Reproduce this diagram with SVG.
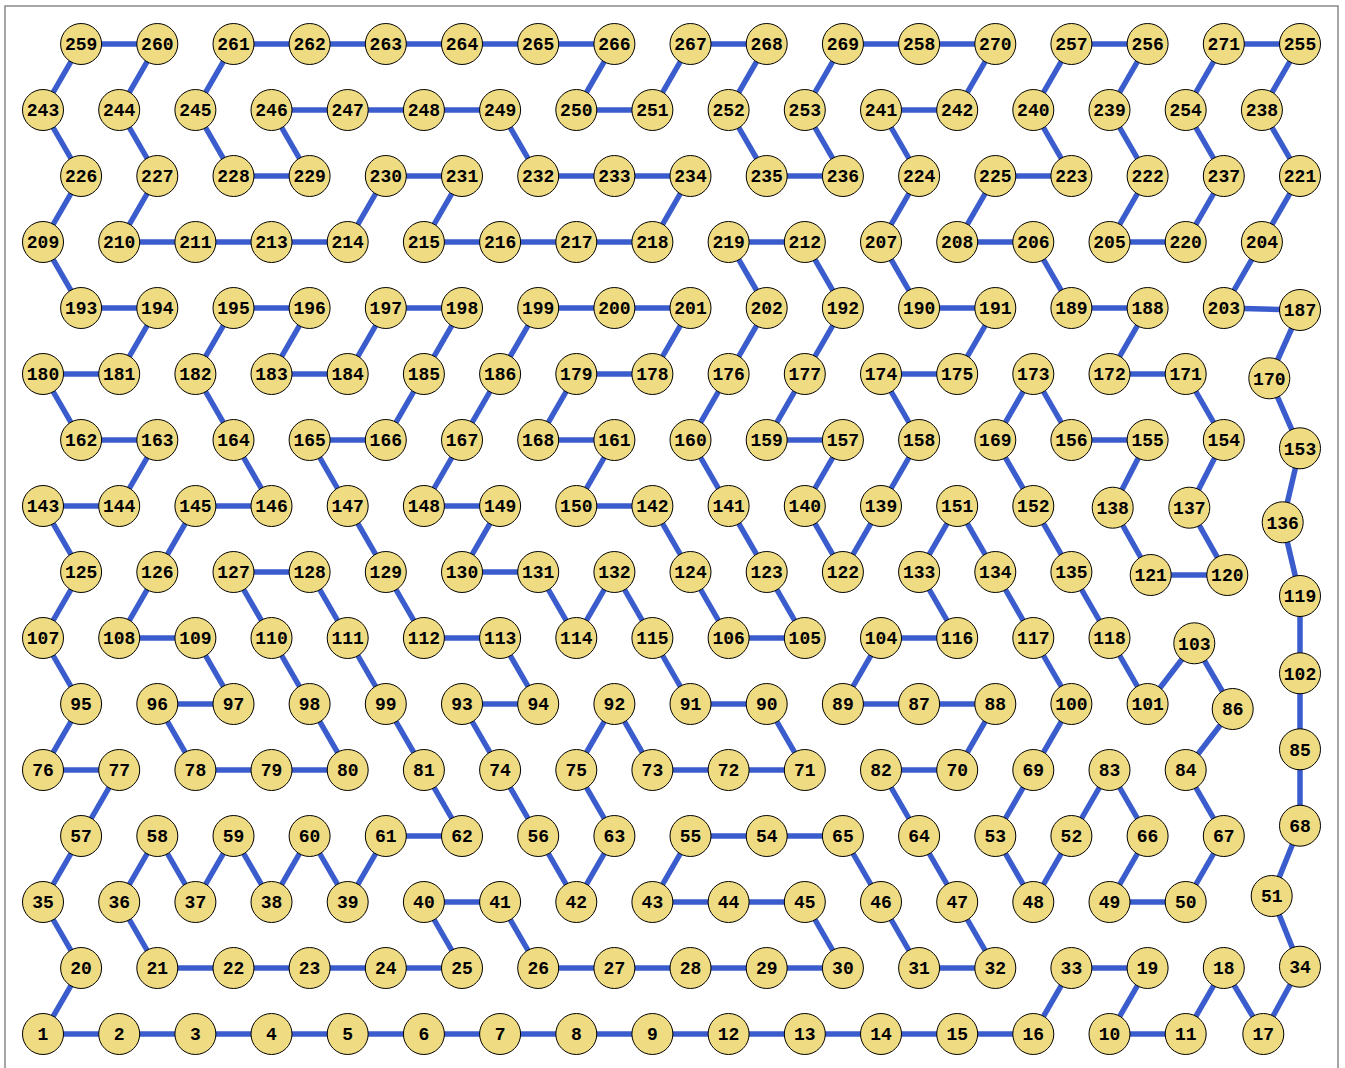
<svg xmlns="http://www.w3.org/2000/svg" width="1345" height="1068" viewBox="0 0 1345 1068">
<style>
.e line{stroke:#3a5ccd;stroke-width:5.5;stroke-linecap:butt}
.n circle{fill:#efdc82;stroke:#000;stroke-width:1}
.n text{font-family:"Liberation Mono","DejaVu Sans Mono",monospace;font-weight:bold;font-size:18px;text-anchor:middle;fill:#000}
</style>
<rect x="5" y="6" width="1333" height="1100" fill="#fff" stroke="#888" stroke-width="1.5"/>
<g class="e" id="connectors">
<line x1="81.1" y1="44" x2="157.3" y2="44"/>
<line x1="233.5" y1="44" x2="309.6" y2="44"/>
<line x1="309.6" y1="44" x2="385.8" y2="44"/>
<line x1="385.8" y1="44" x2="462" y2="44"/>
<line x1="462" y1="44" x2="538.2" y2="44"/>
<line x1="538.2" y1="44" x2="614.4" y2="44"/>
<line x1="690.5" y1="44" x2="766.7" y2="44"/>
<line x1="842.9" y1="44" x2="919.1" y2="44"/>
<line x1="919.1" y1="44" x2="995.3" y2="44"/>
<line x1="1071.4" y1="44" x2="1147.6" y2="44"/>
<line x1="1223.8" y1="44" x2="1300" y2="44"/>
<line x1="81.1" y1="44" x2="43" y2="110"/>
<line x1="157.3" y1="44" x2="119.2" y2="110"/>
<line x1="233.5" y1="44" x2="195.4" y2="110"/>
<line x1="614.4" y1="44" x2="576.3" y2="110"/>
<line x1="690.5" y1="44" x2="652.4" y2="110"/>
<line x1="766.7" y1="44" x2="728.6" y2="110"/>
<line x1="842.9" y1="44" x2="804.8" y2="110"/>
<line x1="995.3" y1="44" x2="957.2" y2="110"/>
<line x1="1071.4" y1="44" x2="1033.3" y2="110"/>
<line x1="1147.6" y1="44" x2="1109.5" y2="110"/>
<line x1="1223.8" y1="44" x2="1185.7" y2="110"/>
<line x1="1300" y1="44" x2="1261.9" y2="110"/>
<line x1="271.5" y1="110" x2="347.7" y2="110"/>
<line x1="347.7" y1="110" x2="423.9" y2="110"/>
<line x1="423.9" y1="110" x2="500.1" y2="110"/>
<line x1="576.3" y1="110" x2="652.4" y2="110"/>
<line x1="881" y1="110" x2="957.2" y2="110"/>
<line x1="43" y1="110" x2="81.1" y2="176"/>
<line x1="119.2" y1="110" x2="157.3" y2="176"/>
<line x1="195.4" y1="110" x2="233.5" y2="176"/>
<line x1="271.5" y1="110" x2="309.6" y2="176"/>
<line x1="500.1" y1="110" x2="538.2" y2="176"/>
<line x1="728.6" y1="110" x2="766.7" y2="176"/>
<line x1="804.8" y1="110" x2="842.9" y2="176"/>
<line x1="881" y1="110" x2="919.1" y2="176"/>
<line x1="1033.3" y1="110" x2="1071.4" y2="176"/>
<line x1="1109.5" y1="110" x2="1147.6" y2="176"/>
<line x1="1185.7" y1="110" x2="1223.8" y2="176"/>
<line x1="1261.9" y1="110" x2="1300" y2="176"/>
<line x1="233.5" y1="176" x2="309.6" y2="176"/>
<line x1="385.8" y1="176" x2="462" y2="176"/>
<line x1="538.2" y1="176" x2="614.4" y2="176"/>
<line x1="614.4" y1="176" x2="690.5" y2="176"/>
<line x1="766.7" y1="176" x2="842.9" y2="176"/>
<line x1="995.3" y1="176" x2="1071.4" y2="176"/>
<line x1="81.1" y1="176" x2="43" y2="242"/>
<line x1="157.3" y1="176" x2="119.2" y2="242"/>
<line x1="385.8" y1="176" x2="347.7" y2="242"/>
<line x1="462" y1="176" x2="423.9" y2="242"/>
<line x1="690.5" y1="176" x2="652.4" y2="242"/>
<line x1="919.1" y1="176" x2="881" y2="242"/>
<line x1="995.3" y1="176" x2="957.2" y2="242"/>
<line x1="1147.6" y1="176" x2="1109.5" y2="242"/>
<line x1="1223.8" y1="176" x2="1185.7" y2="242"/>
<line x1="1300" y1="176" x2="1261.9" y2="242"/>
<line x1="119.2" y1="242" x2="195.4" y2="242"/>
<line x1="195.4" y1="242" x2="271.5" y2="242"/>
<line x1="271.5" y1="242" x2="347.7" y2="242"/>
<line x1="423.9" y1="242" x2="500.1" y2="242"/>
<line x1="500.1" y1="242" x2="576.3" y2="242"/>
<line x1="576.3" y1="242" x2="652.4" y2="242"/>
<line x1="728.6" y1="242" x2="804.8" y2="242"/>
<line x1="957.2" y1="242" x2="1033.3" y2="242"/>
<line x1="1109.5" y1="242" x2="1185.7" y2="242"/>
<line x1="43" y1="242" x2="81.1" y2="308"/>
<line x1="728.6" y1="242" x2="766.7" y2="308"/>
<line x1="804.8" y1="242" x2="842.9" y2="308"/>
<line x1="881" y1="242" x2="919.1" y2="308"/>
<line x1="1033.3" y1="242" x2="1071.4" y2="308"/>
<line x1="1261.9" y1="242" x2="1223.8" y2="308"/>
<line x1="81.1" y1="308" x2="157.3" y2="308"/>
<line x1="233.5" y1="308" x2="309.6" y2="308"/>
<line x1="385.8" y1="308" x2="462" y2="308"/>
<line x1="538.2" y1="308" x2="614.4" y2="308"/>
<line x1="614.4" y1="308" x2="690.5" y2="308"/>
<line x1="919.1" y1="308" x2="995.3" y2="308"/>
<line x1="1071.4" y1="308" x2="1147.6" y2="308"/>
<line x1="1223.8" y1="308" x2="1300" y2="310"/>
<line x1="157.3" y1="308" x2="119.2" y2="374"/>
<line x1="233.5" y1="308" x2="195.4" y2="374"/>
<line x1="309.6" y1="308" x2="271.5" y2="374"/>
<line x1="385.8" y1="308" x2="347.7" y2="374"/>
<line x1="462" y1="308" x2="423.9" y2="374"/>
<line x1="538.2" y1="308" x2="500.1" y2="374"/>
<line x1="690.5" y1="308" x2="652.4" y2="374"/>
<line x1="766.7" y1="308" x2="728.6" y2="374"/>
<line x1="842.9" y1="308" x2="804.8" y2="374"/>
<line x1="995.3" y1="308" x2="957.2" y2="374"/>
<line x1="1147.6" y1="308" x2="1109.5" y2="374"/>
<line x1="1300" y1="310" x2="1269.3" y2="378.3"/>
<line x1="43" y1="374" x2="119.2" y2="374"/>
<line x1="271.5" y1="374" x2="347.7" y2="374"/>
<line x1="576.3" y1="374" x2="652.4" y2="374"/>
<line x1="881" y1="374" x2="957.2" y2="374"/>
<line x1="1109.5" y1="374" x2="1185.7" y2="374"/>
<line x1="43" y1="374" x2="81.1" y2="440"/>
<line x1="195.4" y1="374" x2="233.5" y2="440"/>
<line x1="423.9" y1="374" x2="385.8" y2="440"/>
<line x1="500.1" y1="374" x2="462" y2="440"/>
<line x1="576.3" y1="374" x2="538.2" y2="440"/>
<line x1="728.6" y1="374" x2="690.5" y2="440"/>
<line x1="804.8" y1="374" x2="766.7" y2="440"/>
<line x1="881" y1="374" x2="919.1" y2="440"/>
<line x1="1033.3" y1="374" x2="995.3" y2="440"/>
<line x1="1033.3" y1="374" x2="1071.4" y2="440"/>
<line x1="1185.7" y1="374" x2="1223.8" y2="440"/>
<line x1="1269.3" y1="378.3" x2="1300" y2="448.3"/>
<line x1="81.1" y1="440" x2="157.3" y2="440"/>
<line x1="309.6" y1="440" x2="385.8" y2="440"/>
<line x1="538.2" y1="440" x2="614.4" y2="440"/>
<line x1="766.7" y1="440" x2="842.9" y2="440"/>
<line x1="1071.4" y1="440" x2="1147.6" y2="440"/>
<line x1="157.3" y1="440" x2="119.2" y2="506"/>
<line x1="233.5" y1="440" x2="271.5" y2="506"/>
<line x1="309.6" y1="440" x2="347.7" y2="506"/>
<line x1="462" y1="440" x2="423.9" y2="506"/>
<line x1="614.4" y1="440" x2="576.3" y2="506"/>
<line x1="690.5" y1="440" x2="728.6" y2="506"/>
<line x1="842.9" y1="440" x2="804.8" y2="506"/>
<line x1="919.1" y1="440" x2="881" y2="506"/>
<line x1="995.3" y1="440" x2="1033.3" y2="506"/>
<line x1="1147.6" y1="440" x2="1112.7" y2="507.7"/>
<line x1="1223.8" y1="440" x2="1189.3" y2="507.7"/>
<line x1="1300" y1="448.3" x2="1282.7" y2="522.3"/>
<line x1="43" y1="506" x2="119.2" y2="506"/>
<line x1="195.4" y1="506" x2="271.5" y2="506"/>
<line x1="423.9" y1="506" x2="500.1" y2="506"/>
<line x1="576.3" y1="506" x2="652.4" y2="506"/>
<line x1="43" y1="506" x2="81.1" y2="572"/>
<line x1="195.4" y1="506" x2="157.3" y2="572"/>
<line x1="347.7" y1="506" x2="385.8" y2="572"/>
<line x1="500.1" y1="506" x2="462" y2="572"/>
<line x1="652.4" y1="506" x2="690.5" y2="572"/>
<line x1="728.6" y1="506" x2="766.7" y2="572"/>
<line x1="804.8" y1="506" x2="842.9" y2="572"/>
<line x1="881" y1="506" x2="842.9" y2="572"/>
<line x1="957.2" y1="506" x2="919.1" y2="572"/>
<line x1="957.2" y1="506" x2="995.3" y2="572"/>
<line x1="1033.3" y1="506" x2="1071.4" y2="572"/>
<line x1="1112.7" y1="507.7" x2="1150.7" y2="575"/>
<line x1="1189.3" y1="507.7" x2="1227.3" y2="575"/>
<line x1="1282.7" y1="522.3" x2="1300" y2="596"/>
<line x1="233.5" y1="572" x2="309.6" y2="572"/>
<line x1="462" y1="572" x2="538.2" y2="572"/>
<line x1="1150.7" y1="575" x2="1227.3" y2="575"/>
<line x1="81.1" y1="572" x2="43" y2="638"/>
<line x1="157.3" y1="572" x2="119.2" y2="638"/>
<line x1="233.5" y1="572" x2="271.5" y2="638"/>
<line x1="309.6" y1="572" x2="347.7" y2="638"/>
<line x1="385.8" y1="572" x2="423.9" y2="638"/>
<line x1="538.2" y1="572" x2="576.3" y2="638"/>
<line x1="614.4" y1="572" x2="576.3" y2="638"/>
<line x1="614.4" y1="572" x2="652.4" y2="638"/>
<line x1="690.5" y1="572" x2="728.6" y2="638"/>
<line x1="766.7" y1="572" x2="804.8" y2="638"/>
<line x1="919.1" y1="572" x2="957.2" y2="638"/>
<line x1="995.3" y1="572" x2="1033.3" y2="638"/>
<line x1="1071.4" y1="572" x2="1109.5" y2="638"/>
<line x1="1300" y1="596" x2="1300" y2="673.3"/>
<line x1="119.2" y1="638" x2="195.4" y2="638"/>
<line x1="423.9" y1="638" x2="500.1" y2="638"/>
<line x1="728.6" y1="638" x2="804.8" y2="638"/>
<line x1="881" y1="638" x2="957.2" y2="638"/>
<line x1="43" y1="638" x2="81.1" y2="704"/>
<line x1="195.4" y1="638" x2="233.5" y2="704"/>
<line x1="271.5" y1="638" x2="309.6" y2="704"/>
<line x1="347.7" y1="638" x2="385.8" y2="704"/>
<line x1="500.1" y1="638" x2="538.2" y2="704"/>
<line x1="652.4" y1="638" x2="690.5" y2="704"/>
<line x1="881" y1="638" x2="842.9" y2="704"/>
<line x1="1033.3" y1="638" x2="1071.4" y2="704"/>
<line x1="1109.5" y1="638" x2="1147.6" y2="704"/>
<line x1="1147.6" y1="704" x2="1194.3" y2="643.3"/>
<line x1="1194.3" y1="643.3" x2="1232.7" y2="709"/>
<line x1="1300" y1="673.3" x2="1300" y2="749.3"/>
<line x1="157.3" y1="704" x2="233.5" y2="704"/>
<line x1="462" y1="704" x2="538.2" y2="704"/>
<line x1="690.5" y1="704" x2="766.7" y2="704"/>
<line x1="842.9" y1="704" x2="919.1" y2="704"/>
<line x1="919.1" y1="704" x2="995.3" y2="704"/>
<line x1="81.1" y1="704" x2="43" y2="770"/>
<line x1="157.3" y1="704" x2="195.4" y2="770"/>
<line x1="309.6" y1="704" x2="347.7" y2="770"/>
<line x1="385.8" y1="704" x2="423.9" y2="770"/>
<line x1="462" y1="704" x2="500.1" y2="770"/>
<line x1="614.4" y1="704" x2="576.3" y2="770"/>
<line x1="614.4" y1="704" x2="652.4" y2="770"/>
<line x1="766.7" y1="704" x2="804.8" y2="770"/>
<line x1="995.3" y1="704" x2="957.2" y2="770"/>
<line x1="1071.4" y1="704" x2="1033.3" y2="770"/>
<line x1="1232.7" y1="709" x2="1185.7" y2="770"/>
<line x1="1300" y1="749.3" x2="1300" y2="825.7"/>
<line x1="43" y1="770" x2="119.2" y2="770"/>
<line x1="195.4" y1="770" x2="271.5" y2="770"/>
<line x1="271.5" y1="770" x2="347.7" y2="770"/>
<line x1="652.4" y1="770" x2="728.6" y2="770"/>
<line x1="728.6" y1="770" x2="804.8" y2="770"/>
<line x1="881" y1="770" x2="957.2" y2="770"/>
<line x1="119.2" y1="770" x2="81.1" y2="836"/>
<line x1="423.9" y1="770" x2="462" y2="836"/>
<line x1="500.1" y1="770" x2="538.2" y2="836"/>
<line x1="576.3" y1="770" x2="614.4" y2="836"/>
<line x1="881" y1="770" x2="919.1" y2="836"/>
<line x1="1033.3" y1="770" x2="995.3" y2="836"/>
<line x1="1109.5" y1="770" x2="1071.4" y2="836"/>
<line x1="1109.5" y1="770" x2="1147.6" y2="836"/>
<line x1="1185.7" y1="770" x2="1223.8" y2="836"/>
<line x1="1300" y1="825.7" x2="1271.7" y2="896"/>
<line x1="385.8" y1="836" x2="462" y2="836"/>
<line x1="690.5" y1="836" x2="766.7" y2="836"/>
<line x1="766.7" y1="836" x2="842.9" y2="836"/>
<line x1="81.1" y1="836" x2="43" y2="902"/>
<line x1="157.3" y1="836" x2="119.2" y2="902"/>
<line x1="157.3" y1="836" x2="195.4" y2="902"/>
<line x1="233.5" y1="836" x2="195.4" y2="902"/>
<line x1="233.5" y1="836" x2="271.5" y2="902"/>
<line x1="309.6" y1="836" x2="271.5" y2="902"/>
<line x1="309.6" y1="836" x2="347.7" y2="902"/>
<line x1="385.8" y1="836" x2="347.7" y2="902"/>
<line x1="538.2" y1="836" x2="576.3" y2="902"/>
<line x1="614.4" y1="836" x2="576.3" y2="902"/>
<line x1="690.5" y1="836" x2="652.4" y2="902"/>
<line x1="842.9" y1="836" x2="881" y2="902"/>
<line x1="919.1" y1="836" x2="957.2" y2="902"/>
<line x1="995.3" y1="836" x2="1033.3" y2="902"/>
<line x1="1071.4" y1="836" x2="1033.3" y2="902"/>
<line x1="1147.6" y1="836" x2="1109.5" y2="902"/>
<line x1="1223.8" y1="836" x2="1185.7" y2="902"/>
<line x1="1271.7" y1="896" x2="1300" y2="966.7"/>
<line x1="423.9" y1="902" x2="500.1" y2="902"/>
<line x1="652.4" y1="902" x2="728.6" y2="902"/>
<line x1="728.6" y1="902" x2="804.8" y2="902"/>
<line x1="1109.5" y1="902" x2="1185.7" y2="902"/>
<line x1="43" y1="902" x2="81.1" y2="968"/>
<line x1="119.2" y1="902" x2="157.3" y2="968"/>
<line x1="423.9" y1="902" x2="462" y2="968"/>
<line x1="500.1" y1="902" x2="538.2" y2="968"/>
<line x1="804.8" y1="902" x2="842.9" y2="968"/>
<line x1="881" y1="902" x2="919.1" y2="968"/>
<line x1="957.2" y1="902" x2="995.3" y2="968"/>
<line x1="157.3" y1="968" x2="233.5" y2="968"/>
<line x1="233.5" y1="968" x2="309.6" y2="968"/>
<line x1="309.6" y1="968" x2="385.8" y2="968"/>
<line x1="385.8" y1="968" x2="462" y2="968"/>
<line x1="538.2" y1="968" x2="614.4" y2="968"/>
<line x1="614.4" y1="968" x2="690.5" y2="968"/>
<line x1="690.5" y1="968" x2="766.7" y2="968"/>
<line x1="766.7" y1="968" x2="842.9" y2="968"/>
<line x1="919.1" y1="968" x2="995.3" y2="968"/>
<line x1="1071.4" y1="968" x2="1147.6" y2="968"/>
<line x1="81.1" y1="968" x2="43" y2="1034"/>
<line x1="1071.4" y1="968" x2="1033.3" y2="1034"/>
<line x1="1147.6" y1="968" x2="1109.5" y2="1034"/>
<line x1="1223.8" y1="968" x2="1185.7" y2="1034"/>
<line x1="1223.8" y1="968" x2="1263.3" y2="1034"/>
<line x1="1300" y1="966.7" x2="1263.3" y2="1034"/>
<line x1="43" y1="1034" x2="119.2" y2="1034"/>
<line x1="119.2" y1="1034" x2="195.4" y2="1034"/>
<line x1="195.4" y1="1034" x2="271.5" y2="1034"/>
<line x1="271.5" y1="1034" x2="347.7" y2="1034"/>
<line x1="347.7" y1="1034" x2="423.9" y2="1034"/>
<line x1="423.9" y1="1034" x2="500.1" y2="1034"/>
<line x1="500.1" y1="1034" x2="576.3" y2="1034"/>
<line x1="576.3" y1="1034" x2="652.4" y2="1034"/>
<line x1="652.4" y1="1034" x2="728.6" y2="1034"/>
<line x1="728.6" y1="1034" x2="804.8" y2="1034"/>
<line x1="804.8" y1="1034" x2="881" y2="1034"/>
<line x1="881" y1="1034" x2="957.2" y2="1034"/>
<line x1="957.2" y1="1034" x2="1033.3" y2="1034"/>
<line x1="1109.5" y1="1034" x2="1185.7" y2="1034"/>
</g>
<g class="n">
<g id="n259"><circle cx="81.1" cy="44" r="20.5"/><text x="81.1" y="50.3">259</text></g>
<g id="n260"><circle cx="157.3" cy="44" r="20.5"/><text x="157.3" y="50.3">260</text></g>
<g id="n261"><circle cx="233.5" cy="44" r="20.5"/><text x="233.5" y="50.3">261</text></g>
<g id="n262"><circle cx="309.6" cy="44" r="20.5"/><text x="309.6" y="50.3">262</text></g>
<g id="n263"><circle cx="385.8" cy="44" r="20.5"/><text x="385.8" y="50.3">263</text></g>
<g id="n264"><circle cx="462" cy="44" r="20.5"/><text x="462" y="50.3">264</text></g>
<g id="n265"><circle cx="538.2" cy="44" r="20.5"/><text x="538.2" y="50.3">265</text></g>
<g id="n266"><circle cx="614.4" cy="44" r="20.5"/><text x="614.4" y="50.3">266</text></g>
<g id="n267"><circle cx="690.5" cy="44" r="20.5"/><text x="690.5" y="50.3">267</text></g>
<g id="n268"><circle cx="766.7" cy="44" r="20.5"/><text x="766.7" y="50.3">268</text></g>
<g id="n269"><circle cx="842.9" cy="44" r="20.5"/><text x="842.9" y="50.3">269</text></g>
<g id="n258"><circle cx="919.1" cy="44" r="20.5"/><text x="919.1" y="50.3">258</text></g>
<g id="n270"><circle cx="995.3" cy="44" r="20.5"/><text x="995.3" y="50.3">270</text></g>
<g id="n257"><circle cx="1071.4" cy="44" r="20.5"/><text x="1071.4" y="50.3">257</text></g>
<g id="n256"><circle cx="1147.6" cy="44" r="20.5"/><text x="1147.6" y="50.3">256</text></g>
<g id="n271"><circle cx="1223.8" cy="44" r="20.5"/><text x="1223.8" y="50.3">271</text></g>
<g id="n255"><circle cx="1300" cy="44" r="20.5"/><text x="1300" y="50.3">255</text></g>
<g id="n243"><circle cx="43" cy="110" r="20.5"/><text x="43" y="116.3">243</text></g>
<g id="n244"><circle cx="119.2" cy="110" r="20.5"/><text x="119.2" y="116.3">244</text></g>
<g id="n245"><circle cx="195.4" cy="110" r="20.5"/><text x="195.4" y="116.3">245</text></g>
<g id="n246"><circle cx="271.5" cy="110" r="20.5"/><text x="271.5" y="116.3">246</text></g>
<g id="n247"><circle cx="347.7" cy="110" r="20.5"/><text x="347.7" y="116.3">247</text></g>
<g id="n248"><circle cx="423.9" cy="110" r="20.5"/><text x="423.9" y="116.3">248</text></g>
<g id="n249"><circle cx="500.1" cy="110" r="20.5"/><text x="500.1" y="116.3">249</text></g>
<g id="n250"><circle cx="576.3" cy="110" r="20.5"/><text x="576.3" y="116.3">250</text></g>
<g id="n251"><circle cx="652.4" cy="110" r="20.5"/><text x="652.4" y="116.3">251</text></g>
<g id="n252"><circle cx="728.6" cy="110" r="20.5"/><text x="728.6" y="116.3">252</text></g>
<g id="n253"><circle cx="804.8" cy="110" r="20.5"/><text x="804.8" y="116.3">253</text></g>
<g id="n241"><circle cx="881" cy="110" r="20.5"/><text x="881" y="116.3">241</text></g>
<g id="n242"><circle cx="957.2" cy="110" r="20.5"/><text x="957.2" y="116.3">242</text></g>
<g id="n240"><circle cx="1033.3" cy="110" r="20.5"/><text x="1033.3" y="116.3">240</text></g>
<g id="n239"><circle cx="1109.5" cy="110" r="20.5"/><text x="1109.5" y="116.3">239</text></g>
<g id="n254"><circle cx="1185.7" cy="110" r="20.5"/><text x="1185.7" y="116.3">254</text></g>
<g id="n238"><circle cx="1261.9" cy="110" r="20.5"/><text x="1261.9" y="116.3">238</text></g>
<g id="n226"><circle cx="81.1" cy="176" r="20.5"/><text x="81.1" y="182.3">226</text></g>
<g id="n227"><circle cx="157.3" cy="176" r="20.5"/><text x="157.3" y="182.3">227</text></g>
<g id="n228"><circle cx="233.5" cy="176" r="20.5"/><text x="233.5" y="182.3">228</text></g>
<g id="n229"><circle cx="309.6" cy="176" r="20.5"/><text x="309.6" y="182.3">229</text></g>
<g id="n230"><circle cx="385.8" cy="176" r="20.5"/><text x="385.8" y="182.3">230</text></g>
<g id="n231"><circle cx="462" cy="176" r="20.5"/><text x="462" y="182.3">231</text></g>
<g id="n232"><circle cx="538.2" cy="176" r="20.5"/><text x="538.2" y="182.3">232</text></g>
<g id="n233"><circle cx="614.4" cy="176" r="20.5"/><text x="614.4" y="182.3">233</text></g>
<g id="n234"><circle cx="690.5" cy="176" r="20.5"/><text x="690.5" y="182.3">234</text></g>
<g id="n235"><circle cx="766.7" cy="176" r="20.5"/><text x="766.7" y="182.3">235</text></g>
<g id="n236"><circle cx="842.9" cy="176" r="20.5"/><text x="842.9" y="182.3">236</text></g>
<g id="n224"><circle cx="919.1" cy="176" r="20.5"/><text x="919.1" y="182.3">224</text></g>
<g id="n225"><circle cx="995.3" cy="176" r="20.5"/><text x="995.3" y="182.3">225</text></g>
<g id="n223"><circle cx="1071.4" cy="176" r="20.5"/><text x="1071.4" y="182.3">223</text></g>
<g id="n222"><circle cx="1147.6" cy="176" r="20.5"/><text x="1147.6" y="182.3">222</text></g>
<g id="n237"><circle cx="1223.8" cy="176" r="20.5"/><text x="1223.8" y="182.3">237</text></g>
<g id="n221"><circle cx="1300" cy="176" r="20.5"/><text x="1300" y="182.3">221</text></g>
<g id="n209"><circle cx="43" cy="242" r="20.5"/><text x="43" y="248.3">209</text></g>
<g id="n210"><circle cx="119.2" cy="242" r="20.5"/><text x="119.2" y="248.3">210</text></g>
<g id="n211"><circle cx="195.4" cy="242" r="20.5"/><text x="195.4" y="248.3">211</text></g>
<g id="n213"><circle cx="271.5" cy="242" r="20.5"/><text x="271.5" y="248.3">213</text></g>
<g id="n214"><circle cx="347.7" cy="242" r="20.5"/><text x="347.7" y="248.3">214</text></g>
<g id="n215"><circle cx="423.9" cy="242" r="20.5"/><text x="423.9" y="248.3">215</text></g>
<g id="n216"><circle cx="500.1" cy="242" r="20.5"/><text x="500.1" y="248.3">216</text></g>
<g id="n217"><circle cx="576.3" cy="242" r="20.5"/><text x="576.3" y="248.3">217</text></g>
<g id="n218"><circle cx="652.4" cy="242" r="20.5"/><text x="652.4" y="248.3">218</text></g>
<g id="n219"><circle cx="728.6" cy="242" r="20.5"/><text x="728.6" y="248.3">219</text></g>
<g id="n212"><circle cx="804.8" cy="242" r="20.5"/><text x="804.8" y="248.3">212</text></g>
<g id="n207"><circle cx="881" cy="242" r="20.5"/><text x="881" y="248.3">207</text></g>
<g id="n208"><circle cx="957.2" cy="242" r="20.5"/><text x="957.2" y="248.3">208</text></g>
<g id="n206"><circle cx="1033.3" cy="242" r="20.5"/><text x="1033.3" y="248.3">206</text></g>
<g id="n205"><circle cx="1109.5" cy="242" r="20.5"/><text x="1109.5" y="248.3">205</text></g>
<g id="n220"><circle cx="1185.7" cy="242" r="20.5"/><text x="1185.7" y="248.3">220</text></g>
<g id="n204"><circle cx="1261.9" cy="242" r="20.5"/><text x="1261.9" y="248.3">204</text></g>
<g id="n193"><circle cx="81.1" cy="308" r="20.5"/><text x="81.1" y="314.3">193</text></g>
<g id="n194"><circle cx="157.3" cy="308" r="20.5"/><text x="157.3" y="314.3">194</text></g>
<g id="n195"><circle cx="233.5" cy="308" r="20.5"/><text x="233.5" y="314.3">195</text></g>
<g id="n196"><circle cx="309.6" cy="308" r="20.5"/><text x="309.6" y="314.3">196</text></g>
<g id="n197"><circle cx="385.8" cy="308" r="20.5"/><text x="385.8" y="314.3">197</text></g>
<g id="n198"><circle cx="462" cy="308" r="20.5"/><text x="462" y="314.3">198</text></g>
<g id="n199"><circle cx="538.2" cy="308" r="20.5"/><text x="538.2" y="314.3">199</text></g>
<g id="n200"><circle cx="614.4" cy="308" r="20.5"/><text x="614.4" y="314.3">200</text></g>
<g id="n201"><circle cx="690.5" cy="308" r="20.5"/><text x="690.5" y="314.3">201</text></g>
<g id="n202"><circle cx="766.7" cy="308" r="20.5"/><text x="766.7" y="314.3">202</text></g>
<g id="n192"><circle cx="842.9" cy="308" r="20.5"/><text x="842.9" y="314.3">192</text></g>
<g id="n190"><circle cx="919.1" cy="308" r="20.5"/><text x="919.1" y="314.3">190</text></g>
<g id="n191"><circle cx="995.3" cy="308" r="20.5"/><text x="995.3" y="314.3">191</text></g>
<g id="n189"><circle cx="1071.4" cy="308" r="20.5"/><text x="1071.4" y="314.3">189</text></g>
<g id="n188"><circle cx="1147.6" cy="308" r="20.5"/><text x="1147.6" y="314.3">188</text></g>
<g id="n203"><circle cx="1223.8" cy="308" r="20.5"/><text x="1223.8" y="314.3">203</text></g>
<g id="n187"><circle cx="1300" cy="310" r="20.5"/><text x="1300" y="316.3">187</text></g>
<g id="n180"><circle cx="43" cy="374" r="20.5"/><text x="43" y="380.3">180</text></g>
<g id="n181"><circle cx="119.2" cy="374" r="20.5"/><text x="119.2" y="380.3">181</text></g>
<g id="n182"><circle cx="195.4" cy="374" r="20.5"/><text x="195.4" y="380.3">182</text></g>
<g id="n183"><circle cx="271.5" cy="374" r="20.5"/><text x="271.5" y="380.3">183</text></g>
<g id="n184"><circle cx="347.7" cy="374" r="20.5"/><text x="347.7" y="380.3">184</text></g>
<g id="n185"><circle cx="423.9" cy="374" r="20.5"/><text x="423.9" y="380.3">185</text></g>
<g id="n186"><circle cx="500.1" cy="374" r="20.5"/><text x="500.1" y="380.3">186</text></g>
<g id="n179"><circle cx="576.3" cy="374" r="20.5"/><text x="576.3" y="380.3">179</text></g>
<g id="n178"><circle cx="652.4" cy="374" r="20.5"/><text x="652.4" y="380.3">178</text></g>
<g id="n176"><circle cx="728.6" cy="374" r="20.5"/><text x="728.6" y="380.3">176</text></g>
<g id="n177"><circle cx="804.8" cy="374" r="20.5"/><text x="804.8" y="380.3">177</text></g>
<g id="n174"><circle cx="881" cy="374" r="20.5"/><text x="881" y="380.3">174</text></g>
<g id="n175"><circle cx="957.2" cy="374" r="20.5"/><text x="957.2" y="380.3">175</text></g>
<g id="n173"><circle cx="1033.3" cy="374" r="20.5"/><text x="1033.3" y="380.3">173</text></g>
<g id="n172"><circle cx="1109.5" cy="374" r="20.5"/><text x="1109.5" y="380.3">172</text></g>
<g id="n171"><circle cx="1185.7" cy="374" r="20.5"/><text x="1185.7" y="380.3">171</text></g>
<g id="n170"><circle cx="1269.3" cy="378.3" r="20.5"/><text x="1269.3" y="384.6">170</text></g>
<g id="n162"><circle cx="81.1" cy="440" r="20.5"/><text x="81.1" y="446.3">162</text></g>
<g id="n163"><circle cx="157.3" cy="440" r="20.5"/><text x="157.3" y="446.3">163</text></g>
<g id="n164"><circle cx="233.5" cy="440" r="20.5"/><text x="233.5" y="446.3">164</text></g>
<g id="n165"><circle cx="309.6" cy="440" r="20.5"/><text x="309.6" y="446.3">165</text></g>
<g id="n166"><circle cx="385.8" cy="440" r="20.5"/><text x="385.8" y="446.3">166</text></g>
<g id="n167"><circle cx="462" cy="440" r="20.5"/><text x="462" y="446.3">167</text></g>
<g id="n168"><circle cx="538.2" cy="440" r="20.5"/><text x="538.2" y="446.3">168</text></g>
<g id="n161"><circle cx="614.4" cy="440" r="20.5"/><text x="614.4" y="446.3">161</text></g>
<g id="n160"><circle cx="690.5" cy="440" r="20.5"/><text x="690.5" y="446.3">160</text></g>
<g id="n159"><circle cx="766.7" cy="440" r="20.5"/><text x="766.7" y="446.3">159</text></g>
<g id="n157"><circle cx="842.9" cy="440" r="20.5"/><text x="842.9" y="446.3">157</text></g>
<g id="n158"><circle cx="919.1" cy="440" r="20.5"/><text x="919.1" y="446.3">158</text></g>
<g id="n169"><circle cx="995.3" cy="440" r="20.5"/><text x="995.3" y="446.3">169</text></g>
<g id="n156"><circle cx="1071.4" cy="440" r="20.5"/><text x="1071.4" y="446.3">156</text></g>
<g id="n155"><circle cx="1147.6" cy="440" r="20.5"/><text x="1147.6" y="446.3">155</text></g>
<g id="n154"><circle cx="1223.8" cy="440" r="20.5"/><text x="1223.8" y="446.3">154</text></g>
<g id="n153"><circle cx="1300" cy="448.3" r="20.5"/><text x="1300" y="454.6">153</text></g>
<g id="n143"><circle cx="43" cy="506" r="20.5"/><text x="43" y="512.3">143</text></g>
<g id="n144"><circle cx="119.2" cy="506" r="20.5"/><text x="119.2" y="512.3">144</text></g>
<g id="n145"><circle cx="195.4" cy="506" r="20.5"/><text x="195.4" y="512.3">145</text></g>
<g id="n146"><circle cx="271.5" cy="506" r="20.5"/><text x="271.5" y="512.3">146</text></g>
<g id="n147"><circle cx="347.7" cy="506" r="20.5"/><text x="347.7" y="512.3">147</text></g>
<g id="n148"><circle cx="423.9" cy="506" r="20.5"/><text x="423.9" y="512.3">148</text></g>
<g id="n149"><circle cx="500.1" cy="506" r="20.5"/><text x="500.1" y="512.3">149</text></g>
<g id="n150"><circle cx="576.3" cy="506" r="20.5"/><text x="576.3" y="512.3">150</text></g>
<g id="n142"><circle cx="652.4" cy="506" r="20.5"/><text x="652.4" y="512.3">142</text></g>
<g id="n141"><circle cx="728.6" cy="506" r="20.5"/><text x="728.6" y="512.3">141</text></g>
<g id="n140"><circle cx="804.8" cy="506" r="20.5"/><text x="804.8" y="512.3">140</text></g>
<g id="n139"><circle cx="881" cy="506" r="20.5"/><text x="881" y="512.3">139</text></g>
<g id="n151"><circle cx="957.2" cy="506" r="20.5"/><text x="957.2" y="512.3">151</text></g>
<g id="n152"><circle cx="1033.3" cy="506" r="20.5"/><text x="1033.3" y="512.3">152</text></g>
<g id="n138"><circle cx="1112.7" cy="507.7" r="20.5"/><text x="1112.7" y="514">138</text></g>
<g id="n137"><circle cx="1189.3" cy="507.7" r="20.5"/><text x="1189.3" y="514">137</text></g>
<g id="n136"><circle cx="1282.7" cy="522.3" r="20.5"/><text x="1282.7" y="528.6">136</text></g>
<g id="n125"><circle cx="81.1" cy="572" r="20.5"/><text x="81.1" y="578.3">125</text></g>
<g id="n126"><circle cx="157.3" cy="572" r="20.5"/><text x="157.3" y="578.3">126</text></g>
<g id="n127"><circle cx="233.5" cy="572" r="20.5"/><text x="233.5" y="578.3">127</text></g>
<g id="n128"><circle cx="309.6" cy="572" r="20.5"/><text x="309.6" y="578.3">128</text></g>
<g id="n129"><circle cx="385.8" cy="572" r="20.5"/><text x="385.8" y="578.3">129</text></g>
<g id="n130"><circle cx="462" cy="572" r="20.5"/><text x="462" y="578.3">130</text></g>
<g id="n131"><circle cx="538.2" cy="572" r="20.5"/><text x="538.2" y="578.3">131</text></g>
<g id="n132"><circle cx="614.4" cy="572" r="20.5"/><text x="614.4" y="578.3">132</text></g>
<g id="n124"><circle cx="690.5" cy="572" r="20.5"/><text x="690.5" y="578.3">124</text></g>
<g id="n123"><circle cx="766.7" cy="572" r="20.5"/><text x="766.7" y="578.3">123</text></g>
<g id="n122"><circle cx="842.9" cy="572" r="20.5"/><text x="842.9" y="578.3">122</text></g>
<g id="n133"><circle cx="919.1" cy="572" r="20.5"/><text x="919.1" y="578.3">133</text></g>
<g id="n134"><circle cx="995.3" cy="572" r="20.5"/><text x="995.3" y="578.3">134</text></g>
<g id="n135"><circle cx="1071.4" cy="572" r="20.5"/><text x="1071.4" y="578.3">135</text></g>
<g id="n121"><circle cx="1150.7" cy="575" r="20.5"/><text x="1150.7" y="581.3">121</text></g>
<g id="n120"><circle cx="1227.3" cy="575" r="20.5"/><text x="1227.3" y="581.3">120</text></g>
<g id="n119"><circle cx="1300" cy="596" r="20.5"/><text x="1300" y="602.3">119</text></g>
<g id="n107"><circle cx="43" cy="638" r="20.5"/><text x="43" y="644.3">107</text></g>
<g id="n108"><circle cx="119.2" cy="638" r="20.5"/><text x="119.2" y="644.3">108</text></g>
<g id="n109"><circle cx="195.4" cy="638" r="20.5"/><text x="195.4" y="644.3">109</text></g>
<g id="n110"><circle cx="271.5" cy="638" r="20.5"/><text x="271.5" y="644.3">110</text></g>
<g id="n111"><circle cx="347.7" cy="638" r="20.5"/><text x="347.7" y="644.3">111</text></g>
<g id="n112"><circle cx="423.9" cy="638" r="20.5"/><text x="423.9" y="644.3">112</text></g>
<g id="n113"><circle cx="500.1" cy="638" r="20.5"/><text x="500.1" y="644.3">113</text></g>
<g id="n114"><circle cx="576.3" cy="638" r="20.5"/><text x="576.3" y="644.3">114</text></g>
<g id="n115"><circle cx="652.4" cy="638" r="20.5"/><text x="652.4" y="644.3">115</text></g>
<g id="n106"><circle cx="728.6" cy="638" r="20.5"/><text x="728.6" y="644.3">106</text></g>
<g id="n105"><circle cx="804.8" cy="638" r="20.5"/><text x="804.8" y="644.3">105</text></g>
<g id="n104"><circle cx="881" cy="638" r="20.5"/><text x="881" y="644.3">104</text></g>
<g id="n116"><circle cx="957.2" cy="638" r="20.5"/><text x="957.2" y="644.3">116</text></g>
<g id="n117"><circle cx="1033.3" cy="638" r="20.5"/><text x="1033.3" y="644.3">117</text></g>
<g id="n118"><circle cx="1109.5" cy="638" r="20.5"/><text x="1109.5" y="644.3">118</text></g>
<g id="n103"><circle cx="1194.3" cy="643.3" r="20.5"/><text x="1194.3" y="649.6">103</text></g>
<g id="n102"><circle cx="1300" cy="673.3" r="20.5"/><text x="1300" y="679.6">102</text></g>
<g id="n95"><circle cx="81.1" cy="704" r="20.5"/><text x="81.1" y="710.3">95</text></g>
<g id="n96"><circle cx="157.3" cy="704" r="20.5"/><text x="157.3" y="710.3">96</text></g>
<g id="n97"><circle cx="233.5" cy="704" r="20.5"/><text x="233.5" y="710.3">97</text></g>
<g id="n98"><circle cx="309.6" cy="704" r="20.5"/><text x="309.6" y="710.3">98</text></g>
<g id="n99"><circle cx="385.8" cy="704" r="20.5"/><text x="385.8" y="710.3">99</text></g>
<g id="n93"><circle cx="462" cy="704" r="20.5"/><text x="462" y="710.3">93</text></g>
<g id="n94"><circle cx="538.2" cy="704" r="20.5"/><text x="538.2" y="710.3">94</text></g>
<g id="n92"><circle cx="614.4" cy="704" r="20.5"/><text x="614.4" y="710.3">92</text></g>
<g id="n91"><circle cx="690.5" cy="704" r="20.5"/><text x="690.5" y="710.3">91</text></g>
<g id="n90"><circle cx="766.7" cy="704" r="20.5"/><text x="766.7" y="710.3">90</text></g>
<g id="n89"><circle cx="842.9" cy="704" r="20.5"/><text x="842.9" y="710.3">89</text></g>
<g id="n87"><circle cx="919.1" cy="704" r="20.5"/><text x="919.1" y="710.3">87</text></g>
<g id="n88"><circle cx="995.3" cy="704" r="20.5"/><text x="995.3" y="710.3">88</text></g>
<g id="n100"><circle cx="1071.4" cy="704" r="20.5"/><text x="1071.4" y="710.3">100</text></g>
<g id="n101"><circle cx="1147.6" cy="704" r="20.5"/><text x="1147.6" y="710.3">101</text></g>
<g id="n86"><circle cx="1232.7" cy="709" r="20.5"/><text x="1232.7" y="715.3">86</text></g>
<g id="n76"><circle cx="43" cy="770" r="20.5"/><text x="43" y="776.3">76</text></g>
<g id="n77"><circle cx="119.2" cy="770" r="20.5"/><text x="119.2" y="776.3">77</text></g>
<g id="n78"><circle cx="195.4" cy="770" r="20.5"/><text x="195.4" y="776.3">78</text></g>
<g id="n79"><circle cx="271.5" cy="770" r="20.5"/><text x="271.5" y="776.3">79</text></g>
<g id="n80"><circle cx="347.7" cy="770" r="20.5"/><text x="347.7" y="776.3">80</text></g>
<g id="n81"><circle cx="423.9" cy="770" r="20.5"/><text x="423.9" y="776.3">81</text></g>
<g id="n74"><circle cx="500.1" cy="770" r="20.5"/><text x="500.1" y="776.3">74</text></g>
<g id="n75"><circle cx="576.3" cy="770" r="20.5"/><text x="576.3" y="776.3">75</text></g>
<g id="n73"><circle cx="652.4" cy="770" r="20.5"/><text x="652.4" y="776.3">73</text></g>
<g id="n72"><circle cx="728.6" cy="770" r="20.5"/><text x="728.6" y="776.3">72</text></g>
<g id="n71"><circle cx="804.8" cy="770" r="20.5"/><text x="804.8" y="776.3">71</text></g>
<g id="n82"><circle cx="881" cy="770" r="20.5"/><text x="881" y="776.3">82</text></g>
<g id="n70"><circle cx="957.2" cy="770" r="20.5"/><text x="957.2" y="776.3">70</text></g>
<g id="n69"><circle cx="1033.3" cy="770" r="20.5"/><text x="1033.3" y="776.3">69</text></g>
<g id="n83"><circle cx="1109.5" cy="770" r="20.5"/><text x="1109.5" y="776.3">83</text></g>
<g id="n84"><circle cx="1185.7" cy="770" r="20.5"/><text x="1185.7" y="776.3">84</text></g>
<g id="n85"><circle cx="1300" cy="749.3" r="20.5"/><text x="1300" y="755.6">85</text></g>
<g id="n57"><circle cx="81.1" cy="836" r="20.5"/><text x="81.1" y="842.3">57</text></g>
<g id="n58"><circle cx="157.3" cy="836" r="20.5"/><text x="157.3" y="842.3">58</text></g>
<g id="n59"><circle cx="233.5" cy="836" r="20.5"/><text x="233.5" y="842.3">59</text></g>
<g id="n60"><circle cx="309.6" cy="836" r="20.5"/><text x="309.6" y="842.3">60</text></g>
<g id="n61"><circle cx="385.8" cy="836" r="20.5"/><text x="385.8" y="842.3">61</text></g>
<g id="n62"><circle cx="462" cy="836" r="20.5"/><text x="462" y="842.3">62</text></g>
<g id="n56"><circle cx="538.2" cy="836" r="20.5"/><text x="538.2" y="842.3">56</text></g>
<g id="n63"><circle cx="614.4" cy="836" r="20.5"/><text x="614.4" y="842.3">63</text></g>
<g id="n55"><circle cx="690.5" cy="836" r="20.5"/><text x="690.5" y="842.3">55</text></g>
<g id="n54"><circle cx="766.7" cy="836" r="20.5"/><text x="766.7" y="842.3">54</text></g>
<g id="n65"><circle cx="842.9" cy="836" r="20.5"/><text x="842.9" y="842.3">65</text></g>
<g id="n64"><circle cx="919.1" cy="836" r="20.5"/><text x="919.1" y="842.3">64</text></g>
<g id="n53"><circle cx="995.3" cy="836" r="20.5"/><text x="995.3" y="842.3">53</text></g>
<g id="n52"><circle cx="1071.4" cy="836" r="20.5"/><text x="1071.4" y="842.3">52</text></g>
<g id="n66"><circle cx="1147.6" cy="836" r="20.5"/><text x="1147.6" y="842.3">66</text></g>
<g id="n67"><circle cx="1223.8" cy="836" r="20.5"/><text x="1223.8" y="842.3">67</text></g>
<g id="n68"><circle cx="1300" cy="825.7" r="20.5"/><text x="1300" y="832">68</text></g>
<g id="n35"><circle cx="43" cy="902" r="20.5"/><text x="43" y="908.3">35</text></g>
<g id="n36"><circle cx="119.2" cy="902" r="20.5"/><text x="119.2" y="908.3">36</text></g>
<g id="n37"><circle cx="195.4" cy="902" r="20.5"/><text x="195.4" y="908.3">37</text></g>
<g id="n38"><circle cx="271.5" cy="902" r="20.5"/><text x="271.5" y="908.3">38</text></g>
<g id="n39"><circle cx="347.7" cy="902" r="20.5"/><text x="347.7" y="908.3">39</text></g>
<g id="n40"><circle cx="423.9" cy="902" r="20.5"/><text x="423.9" y="908.3">40</text></g>
<g id="n41"><circle cx="500.1" cy="902" r="20.5"/><text x="500.1" y="908.3">41</text></g>
<g id="n42"><circle cx="576.3" cy="902" r="20.5"/><text x="576.3" y="908.3">42</text></g>
<g id="n43"><circle cx="652.4" cy="902" r="20.5"/><text x="652.4" y="908.3">43</text></g>
<g id="n44"><circle cx="728.6" cy="902" r="20.5"/><text x="728.6" y="908.3">44</text></g>
<g id="n45"><circle cx="804.8" cy="902" r="20.5"/><text x="804.8" y="908.3">45</text></g>
<g id="n46"><circle cx="881" cy="902" r="20.5"/><text x="881" y="908.3">46</text></g>
<g id="n47"><circle cx="957.2" cy="902" r="20.5"/><text x="957.2" y="908.3">47</text></g>
<g id="n48"><circle cx="1033.3" cy="902" r="20.5"/><text x="1033.3" y="908.3">48</text></g>
<g id="n49"><circle cx="1109.5" cy="902" r="20.5"/><text x="1109.5" y="908.3">49</text></g>
<g id="n50"><circle cx="1185.7" cy="902" r="20.5"/><text x="1185.7" y="908.3">50</text></g>
<g id="n51"><circle cx="1271.7" cy="896" r="20.5"/><text x="1271.7" y="902.3">51</text></g>
<g id="n20"><circle cx="81.1" cy="968" r="20.5"/><text x="81.1" y="974.3">20</text></g>
<g id="n21"><circle cx="157.3" cy="968" r="20.5"/><text x="157.3" y="974.3">21</text></g>
<g id="n22"><circle cx="233.5" cy="968" r="20.5"/><text x="233.5" y="974.3">22</text></g>
<g id="n23"><circle cx="309.6" cy="968" r="20.5"/><text x="309.6" y="974.3">23</text></g>
<g id="n24"><circle cx="385.8" cy="968" r="20.5"/><text x="385.8" y="974.3">24</text></g>
<g id="n25"><circle cx="462" cy="968" r="20.5"/><text x="462" y="974.3">25</text></g>
<g id="n26"><circle cx="538.2" cy="968" r="20.5"/><text x="538.2" y="974.3">26</text></g>
<g id="n27"><circle cx="614.4" cy="968" r="20.5"/><text x="614.4" y="974.3">27</text></g>
<g id="n28"><circle cx="690.5" cy="968" r="20.5"/><text x="690.5" y="974.3">28</text></g>
<g id="n29"><circle cx="766.7" cy="968" r="20.5"/><text x="766.7" y="974.3">29</text></g>
<g id="n30"><circle cx="842.9" cy="968" r="20.5"/><text x="842.9" y="974.3">30</text></g>
<g id="n31"><circle cx="919.1" cy="968" r="20.5"/><text x="919.1" y="974.3">31</text></g>
<g id="n32"><circle cx="995.3" cy="968" r="20.5"/><text x="995.3" y="974.3">32</text></g>
<g id="n33"><circle cx="1071.4" cy="968" r="20.5"/><text x="1071.4" y="974.3">33</text></g>
<g id="n19"><circle cx="1147.6" cy="968" r="20.5"/><text x="1147.6" y="974.3">19</text></g>
<g id="n18"><circle cx="1223.8" cy="968" r="20.5"/><text x="1223.8" y="974.3">18</text></g>
<g id="n34"><circle cx="1300" cy="966.7" r="20.5"/><text x="1300" y="973">34</text></g>
<g id="n1"><circle cx="43" cy="1034" r="20.5"/><text x="43" y="1040.3">1</text></g>
<g id="n2"><circle cx="119.2" cy="1034" r="20.5"/><text x="119.2" y="1040.3">2</text></g>
<g id="n3"><circle cx="195.4" cy="1034" r="20.5"/><text x="195.4" y="1040.3">3</text></g>
<g id="n4"><circle cx="271.5" cy="1034" r="20.5"/><text x="271.5" y="1040.3">4</text></g>
<g id="n5"><circle cx="347.7" cy="1034" r="20.5"/><text x="347.7" y="1040.3">5</text></g>
<g id="n6"><circle cx="423.9" cy="1034" r="20.5"/><text x="423.9" y="1040.3">6</text></g>
<g id="n7"><circle cx="500.1" cy="1034" r="20.5"/><text x="500.1" y="1040.3">7</text></g>
<g id="n8"><circle cx="576.3" cy="1034" r="20.5"/><text x="576.3" y="1040.3">8</text></g>
<g id="n9"><circle cx="652.4" cy="1034" r="20.5"/><text x="652.4" y="1040.3">9</text></g>
<g id="n12"><circle cx="728.6" cy="1034" r="20.5"/><text x="728.6" y="1040.3">12</text></g>
<g id="n13"><circle cx="804.8" cy="1034" r="20.5"/><text x="804.8" y="1040.3">13</text></g>
<g id="n14"><circle cx="881" cy="1034" r="20.5"/><text x="881" y="1040.3">14</text></g>
<g id="n15"><circle cx="957.2" cy="1034" r="20.5"/><text x="957.2" y="1040.3">15</text></g>
<g id="n16"><circle cx="1033.3" cy="1034" r="20.5"/><text x="1033.3" y="1040.3">16</text></g>
<g id="n10"><circle cx="1109.5" cy="1034" r="20.5"/><text x="1109.5" y="1040.3">10</text></g>
<g id="n11"><circle cx="1185.7" cy="1034" r="20.5"/><text x="1185.7" y="1040.3">11</text></g>
<g id="n17"><circle cx="1263.3" cy="1034" r="20.5"/><text x="1263.3" y="1040.3">17</text></g>
</g>
</svg>
